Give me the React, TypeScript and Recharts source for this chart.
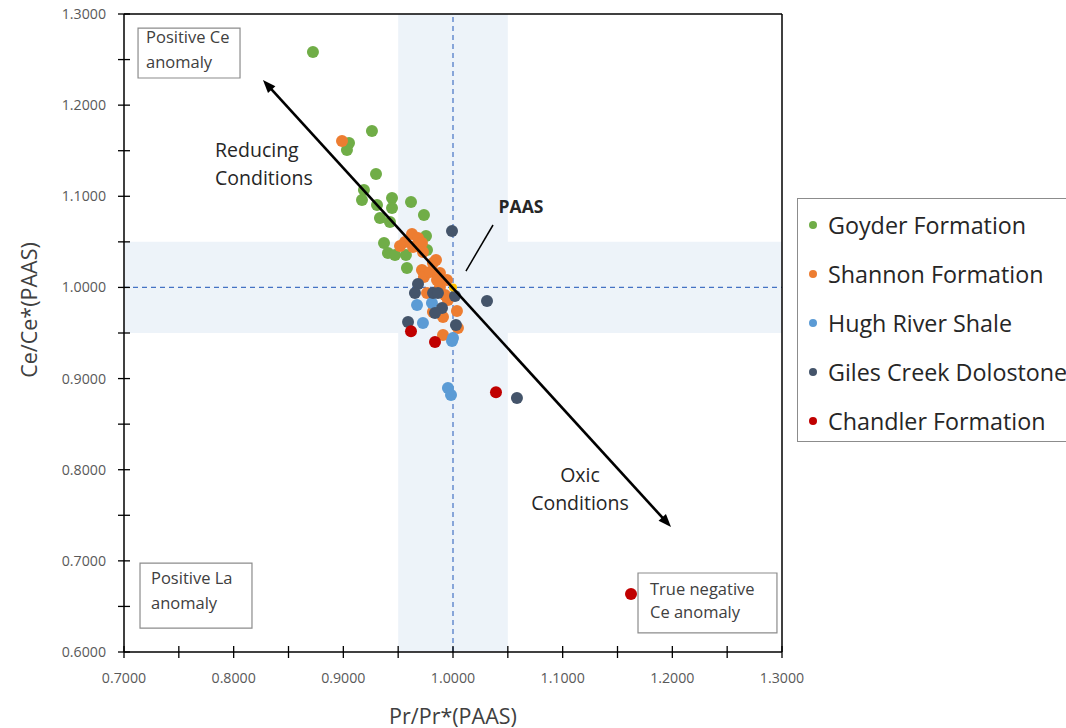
import React from 'react';
import { ScatterChart, Scatter, XAxis, YAxis, ReferenceArea, ReferenceLine, ReferenceDot, Legend } from 'recharts';

// Pr/Pr*, Ce/Ce* pairs per formation
const goyder: [number, number][] = [
  [0.8723, 1.2583], [0.9261, 1.1716], [0.9052, 1.1585], [0.9033, 1.1508], [0.9298, 1.1244],
  [0.9188, 1.1069], [0.917, 1.0959], [0.9444, 1.0981], [0.9617, 1.0937], [0.9307, 1.0904],
  [0.9444, 1.0871], [0.9334, 1.0761], [0.9425, 1.0718], [0.9735, 1.0795], [0.9754, 1.0564],
  [0.9371, 1.0487], [0.9407, 1.0378], [0.9471, 1.0356], [0.9571, 1.0356], [0.9763, 1.0411],
  [0.958, 1.0213],
];
const shannon: [number, number][] = [
  [0.8988, 1.1607], [0.9562, 1.0498], [0.9517, 1.0454], [0.9626, 1.0586], [0.9681, 1.0542],
  [0.9717, 1.0487], [0.9635, 1.0443], [0.9726, 1.0389], [0.9845, 1.0301], [0.9817, 1.0268],
  [0.9717, 1.0191], [0.9735, 1.0114], [0.979, 1.0169], [0.9881, 1.0158], [0.9854, 1.0081],
  [0.9945, 1.0081], [0.9881, 1.0005], [0.9763, 0.9939], [0.9927, 0.9917], [0.9954, 0.9862],
  [1.0036, 0.9741], [0.9909, 0.9675], [0.9817, 0.973], [1.0045, 0.9555], [0.9909, 0.9478],
];
const hughRiver: [number, number][] = [
  [0.9672, 0.9807], [0.9808, 0.9829], [0.9726, 0.961], [1.0, 0.9445], [0.9991, 0.9412],
  [0.9954, 0.8896], [0.9982, 0.882],
];
const gilesCreek: [number, number][] = [
  [0.9991, 1.0619], [0.9681, 1.0038], [0.9653, 0.9939], [0.9818, 0.9939], [0.9863, 0.9939],
  [1.0018, 0.9906], [0.99, 0.9774], [0.9836, 0.9719], [0.959, 0.9621], [1.0027, 0.9588],
  [1.031, 0.9851], [1.0583, 0.8787],
];
const chandler: [number, number][] = [
  [0.9617, 0.952], [0.9836, 0.94], [1.0392, 0.885], [1.1623, 0.6636],
];
const paas: [number, number][] = [[1.0, 1.0]];

const seriesNames = ['Goyder Formation', 'Shannon Formation', 'Hugh River Shale', 'Giles Creek Dolostone', 'Chandler Formation'];
const seriesColors = ['#70AD47', '#ED7D31', '#5B9BD5', '#44546A', '#C00000'];

const xTicks = [0.7, 0.75, 0.8, 0.85, 0.9, 0.95, 1.0, 1.05, 1.1, 1.15, 1.2, 1.25, 1.3];
const yTicks = [0.6, 0.65, 0.7, 0.75, 0.8, 0.85, 0.9, 0.95, 1.0, 1.05, 1.1, 1.15, 1.2, 1.25, 1.3];

const FONT = '"Open Sans", Lato, sans-serif';
const BAND = '#EDF3F9';

const toPts = (arr: [number, number][]) => arr.map(([x, y]) => ({ x, y }));

const isMajor = (v: number) => Math.abs(v * 10 - Math.round(v * 10)) < 1e-6;

const YTick = (props: any) => {
  const { x, y, payload } = props;
  const v = payload.value as number;
  return (
    <g>
      <line x1={x - 6} x2={x + 6} y1={y} y2={y} stroke="#000" strokeWidth={1.3} />
      {isMajor(v) && (
        <text x={x - 18} y={y + 5} textAnchor="end" fontSize={14.2} fill="#595959" fontFamily={FONT}>
          {v.toFixed(4)}
        </text>
      )}
    </g>
  );
};

const XTick = (props: any) => {
  const { x, y, payload } = props;
  const v = payload.value as number;
  return (
    <g>
      <line x1={x} x2={x} y1={y - 6} y2={y + 6} stroke="#000" strokeWidth={1.3} />
      {isMajor(v) && (
        <text x={x} y={y + 31} textAnchor="middle" fontSize={14.2} fill="#595959" fontFamily={FONT}>
          {v.toFixed(4)}
        </text>
      )}
    </g>
  );
};

const dot = (color: string, r = 6) => (p: any) => <circle cx={p.cx} cy={p.cy} r={r} fill={color} />;

// double headed arrow drawn between the segment ends
const arrowShape = (p: any) => {
  const { x1, y1, x2, y2 } = p;
  const ang = Math.atan2(y2 - y1, x2 - x1);
  const L = 13;
  const W = 5;
  const head = (px: number, py: number, a: number) => {
    const bx = px - L * Math.cos(a);
    const by = py - L * Math.sin(a);
    const nx = -Math.sin(a) * W;
    const ny = Math.cos(a) * W;
    return `${px},${py} ${bx + nx},${by + ny} ${bx - nx},${by - ny}`;
  };
  return (
    <g>
      <line
        x1={x1 + 10 * Math.cos(ang)} y1={y1 + 10 * Math.sin(ang)}
        x2={x2 - 10 * Math.cos(ang)} y2={y2 - 10 * Math.sin(ang)}
        stroke="#000" strokeWidth={2.6}
      />
      <polygon points={head(x2, y2, ang)} fill="#000" />
      <polygon points={head(x1, y1, ang + Math.PI)} fill="#000" />
    </g>
  );
};

const boxLabel = (lines: string[], padX: number, padY: number, gap: number) => (props: any) => {
  const vb = props.viewBox;
  return (
    <text x={vb.x + padX} y={vb.y + padY} fontSize={16.5} fill="#404040" fontFamily={FONT}>
      {lines.map((l, i) => (
        <tspan key={i} x={vb.x + padX} dy={i === 0 ? 0 : gap}>{l}</tspan>
      ))}
    </text>
  );
};

const textShape = (lines: string[], anchor: 'start' | 'middle', size: number, bold = false) => (p: any) => (
  <text x={p.cx} y={p.cy} textAnchor={anchor} fontSize={size} fill="#262626" fontFamily={FONT} fontWeight={bold ? 700 : 400}>
    {lines.map((l, i) => (
      <tspan key={i} x={p.cx} dy={i === 0 ? size * 0.36 : 28}>{l}</tspan>
    ))}
  </text>
);

const yTitle = (props: any) => {
  const vb = props.viewBox;
  const cx = vb.x + 28;
  const cy = vb.y + vb.height / 2 - 23;
  return (
    <text x={cx} y={cy} transform={`rotate(-90, ${cx}, ${cy})`} textAnchor="middle" dominantBaseline="central"
      fontSize={21.5} fill="#404040" fontFamily={FONT}>
      Ce/Ce*(PAAS)
    </text>
  );
};

const xTitle = (props: any) => {
  const vb = props.viewBox;
  return (
    <text x={vb.x + vb.width / 2} y={vb.y + 63} textAnchor="middle" dominantBaseline="central"
      fontSize={21.5} fill="#404040" fontFamily={FONT}>
      Pr/Pr*(PAAS)
    </text>
  );
};

const renderLegend = (props: any) => {
  const items = (props.payload || [])
    .filter((it: any) => seriesNames.includes(it.value))
    .sort((a: any, b: any) => seriesNames.indexOf(a.value) - seriesNames.indexOf(b.value));
  return (
    <div style={{ border: '1px solid #8c8c8c', background: '#fff', height: 244, boxSizing: 'border-box', paddingTop: 1 }}>
      {items.map((it: any) => (
        <div key={it.value} style={{ height: 49, display: 'flex', alignItems: 'center', whiteSpace: 'nowrap' }}>
          <span style={{ display: 'inline-block', width: 8, height: 8, borderRadius: 4, background: it.color, marginLeft: 11, marginRight: 11, flexShrink: 0 }} />
          <span style={{ fontFamily: FONT, fontSize: 23.3, color: '#262626' }}>{it.value}</span>
        </div>
      ))}
    </div>
  );
};

const seriesData = [goyder, shannon, hughRiver, gilesCreek, chandler];

export default function App() {
  return (
    <div style={{ position: 'absolute', left: 0, top: 0, width: 1066, height: 728, overflow: 'hidden', background: '#fff' }}>
      <ScatterChart width={1066} height={728} margin={{ top: 14, right: 284, bottom: 0, left: 0 }}>
        <XAxis
          type="number" dataKey="x" domain={[0.7, 1.3]} ticks={xTicks} interval={0} allowDataOverflow
          height={76} tickSize={0} tickMargin={0} tick={<XTick />}
          axisLine={{ stroke: '#000', strokeWidth: 1.5 }}
          label={xTitle}
        />
        <YAxis
          type="number" dataKey="y" domain={[0.6, 1.3]} ticks={yTicks} interval={0} allowDataOverflow
          width={124} tickSize={0} tickMargin={0} tick={<YTick />}
          axisLine={{ stroke: '#000', strokeWidth: 1.5 }}
          label={yTitle}
        />
        {/* shaded PAAS bands */}
        <ReferenceArea x1={0.95} x2={1.05} y1={0.6} y2={1.3} fill={BAND} fillOpacity={1} stroke="none" />
        <ReferenceArea x1={0.7} x2={1.3} y1={0.95} y2={1.05} fill={BAND} fillOpacity={1} stroke="none" />
        <ReferenceLine x={1.0} stroke="#4472C4" strokeDasharray="5 4" strokeWidth={1.2} />
        <ReferenceLine y={1.0} stroke="#4472C4" strokeDasharray="5 4" strokeWidth={1.2} />
        {/* frame */}
        <ReferenceLine y={1.3} stroke="#000" strokeWidth={1.5} />
        <ReferenceLine x={1.3} stroke="#000" strokeWidth={1.5} />

        <ReferenceArea x1={0.7128} x2={0.8058} y1={1.2298} y2={1.2846} fill="#fff" fillOpacity={1} stroke="#8c8c8c" strokeWidth={1.2}
          label={boxLabel(['Positive Ce', 'anomaly'], 8, 15, 25)} />
        <ReferenceArea x1={0.7146} x2={0.8167} y1={0.6263} y2={0.6976} fill="#fff" fillOpacity={1} stroke="#8c8c8c" strokeWidth={1.2}
          label={boxLabel(['Positive La', 'anomaly'], 11, 21, 25)} />
        <ReferenceArea x1={1.1687} x2={1.2954} y1={0.6209} y2={0.6867} fill="#fff" fillOpacity={1} stroke="#8c8c8c" strokeWidth={1.2}
          label={boxLabel(['True negative', 'Ce anomaly'], 12, 22, 23)} />

        {seriesData.map((d, i) => (
          <Scatter key={seriesNames[i]} name={seriesNames[i]} data={toPts(d)} fill={seriesColors[i]}
            shape={dot(seriesColors[i])} isAnimationActive={false} />
        ))}
        <Scatter name="PAAS" data={toPts(paas)} fill="#FFC000" shape={dot('#FFC000', 4)} legendType="none" isAnimationActive={false} />

        <ReferenceLine segment={[{ x: 0.8267, y: 1.2276 }, { x: 1.1988, y: 0.7371 }]} shape={arrowShape} zIndex={700} />
        <ReferenceLine segment={[{ x: 1.0118, y: 1.018 }, { x: 1.0365, y: 1.0685 }]} stroke="#000" strokeWidth={1.5} zIndex={700} />

        <ReferenceDot x={0.783} y={1.1508} r={0} shape={textShape(['Reducing', 'Conditions'], 'start', 19.5)} zIndex={800} />
        <ReferenceDot x={1.1158} y={0.7942} r={0} shape={textShape(['Oxic', 'Conditions'], 'middle', 19.5)} zIndex={800} />
        <ReferenceDot x={1.062} y={1.0882} r={0} shape={textShape(['PAAS'], 'middle', 17.5, true)} zIndex={800} />

        <Legend
          layout="horizontal" verticalAlign="middle" align="center"
          content={renderLegend}
          wrapperStyle={{ left: 797, top: 198, width: 300, height: 244 }}
        />
      </ScatterChart>
    </div>
  );
}
